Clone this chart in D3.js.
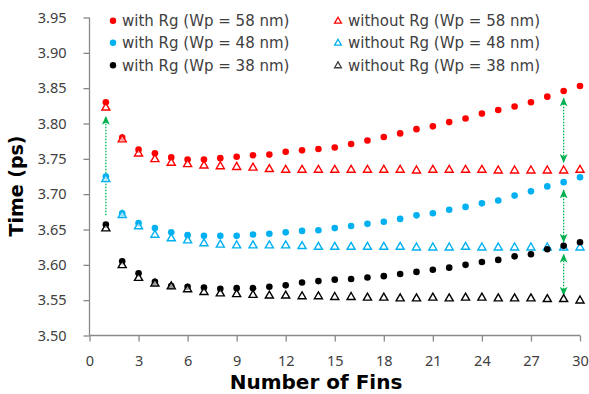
<!DOCTYPE html>
<html>
<head>
<meta charset="utf-8">
<script src="https://cdn.jsdelivr.net/npm/d3@7"></script>
<style>
  body { margin: 0; background: #fff; }
  svg { display: block; }
</style>
</head>
<body>
<div id="chart"></div>
<script>
// Number of fins (x) and delay time (ps) for each series
const fins = d3.range(1, 31);
const withRg58 = [3.830, 3.780, 3.763, 3.758, 3.752, 3.749, 3.749, 3.751, 3.753, 3.755,
  3.756, 3.760, 3.762, 3.764, 3.766, 3.771, 3.776, 3.781, 3.786, 3.792,
  3.796, 3.802, 3.807, 3.814, 3.819, 3.824, 3.830, 3.838, 3.846, 3.853];
const withoutRg58 = [3.823, 3.778, 3.758, 3.750, 3.745, 3.743, 3.741, 3.740, 3.739, 3.738,
  3.736, 3.735, 3.735, 3.735, 3.735, 3.735, 3.735, 3.735, 3.735, 3.734,
  3.735, 3.735, 3.735, 3.735, 3.734, 3.734, 3.734, 3.734, 3.734, 3.735];
const withRg48 = [3.725, 3.673, 3.659, 3.652, 3.646, 3.642, 3.641, 3.641, 3.641, 3.643,
  3.644, 3.646, 3.648, 3.649, 3.652, 3.655, 3.658, 3.661, 3.665, 3.670,
  3.673, 3.678, 3.682, 3.687, 3.691, 3.698, 3.704, 3.711, 3.717, 3.724];
const withoutRg48 = [3.722, 3.671, 3.655, 3.643, 3.638, 3.635, 3.631, 3.629, 3.628, 3.628,
  3.628, 3.628, 3.627, 3.626, 3.626, 3.626, 3.626, 3.626, 3.626, 3.625,
  3.625, 3.625, 3.626, 3.625, 3.625, 3.625, 3.625, 3.625, 3.625, 3.625];
const withRg38 = [3.657, 3.605, 3.588, 3.576, 3.570, 3.569, 3.568, 3.566, 3.567, 3.567,
  3.569, 3.571, 3.575, 3.577, 3.579, 3.580, 3.582, 3.584, 3.587, 3.590,
  3.593, 3.596, 3.600, 3.604, 3.607, 3.612, 3.615, 3.622, 3.627, 3.632];
const withoutRg38 = [3.652, 3.600, 3.582, 3.574, 3.570, 3.566, 3.562, 3.560, 3.559, 3.558,
  3.557, 3.557, 3.556, 3.556, 3.555, 3.555, 3.554, 3.554, 3.553, 3.553,
  3.554, 3.553, 3.554, 3.554, 3.553, 3.553, 3.553, 3.552, 3.552, 3.550];

const seriesNames = ["with Rg (Wp = 58 nm)", "without Rg (Wp = 58 nm)",
  "with Rg (Wp = 48 nm)", "without Rg (Wp = 48 nm)",
  "with Rg (Wp = 38 nm)", "without Rg (Wp = 38 nm)"];
const seriesValues = [withRg58, withoutRg58, withRg48, withoutRg48, withRg38, withoutRg38];
const seriesColors = ["#ff0000", "#ff0000", "#00b0f0", "#00b0f0", "#000000", "#000000"];
const seriesMarkers = ["dot", "triangle", "dot", "triangle", "dot", "triangle"];

const xTicks = d3.range(0, 31, 3);
const yTicks = [3.50, 3.55, 3.60, 3.65, 3.70, 3.75, 3.80, 3.85, 3.90, 3.95];

// Green arrows: [fins, from, to, doubleHeaded]
const arrows = [
  [1, 3.670, 3.810, false],
  [29, 3.745, 3.836, true],
  [29, 3.632, 3.706, true],
  [29, 3.557, 3.615, true]
];

const width = 589, height = 394;
const svg = d3.select("#chart").append("svg")
  .attr("width", width)
  .attr("height", height);

const x = d3.scaleLinear().domain([0, 30]).range([89.5, 580]);
const y = d3.scaleLinear().domain([3.50, 3.95]).range([335.5, 17.5]);

const axisColor = "#898989";
const labelColor = "#404040";
const tickFont = "'Noto Sans', sans-serif";

// Axes
const xAxis = svg.append("g")
  .attr("transform", `translate(0,${y(3.50)})`)
  .call(d3.axisBottom(x).tickValues(xTicks).tickSize(6).tickPadding(14).tickFormat(d3.format("d")));
const yAxis = svg.append("g")
  .attr("transform", `translate(${x(0)},0)`)
  .call(d3.axisLeft(y).tickValues(yTicks).tickSize(6).tickPadding(17).tickFormat(d3.format(".2f")));

[xAxis, yAxis].forEach(a => {
  a.select(".domain").attr("stroke", axisColor).attr("stroke-width", 1.3);
  a.selectAll(".tick line").attr("stroke", axisColor).attr("stroke-width", 1.3);
  a.selectAll(".tick text")
    .attr("fill", labelColor)
    .style("font-family", tickFont)
    .style("font-size", "14.5px");
});
// remove the outer tick ends d3 draws on the domain path
xAxis.select(".domain").attr("d", `M${x(0)},0H${x(30)}`);
yAxis.select(".domain").attr("d", `M0,${y(3.95)}V${y(3.50)}`);

// Axis titles
svg.append("text")
  .attr("x", 316)
  .attr("y", 389)
  .attr("text-anchor", "middle")
  .style("font-family", "'DejaVu Sans', sans-serif")
  .style("font-weight", "bold")
  .style("font-size", "20px")
  .attr("fill", "#000")
  .text("Number of Fins");

svg.append("text")
  .attr("transform", "translate(23,186) rotate(-90)")
  .attr("text-anchor", "middle")
  .style("font-family", "'DejaVu Sans', sans-serif")
  .style("font-weight", "bold")
  .style("font-size", "19px")
  .attr("fill", "#000")
  .text("Time (ps)");

// Arrows
const green = "#00b050";
const defs = svg.append("defs");
defs.append("marker")
  .attr("id", "head")
  .attr("viewBox", "0 0 8 8")
  .attr("refX", 7.5)
  .attr("refY", 4)
  .attr("markerWidth", 9)
  .attr("markerHeight", 9)
  .attr("markerUnits", "userSpaceOnUse")
  .attr("orient", "auto-start-reverse")
  .append("path")
  .attr("d", "M0,0.5L8,4L0,7.5L2.2,4Z")
  .attr("fill", green);

svg.append("g").selectAll("line")
  .data(arrows)
  .join("line")
  .attr("x1", d => x(d[0]))
  .attr("x2", d => x(d[0]))
  .attr("y1", d => y(d[1]))
  .attr("y2", d => y(d[2]))
  .attr("stroke", green)
  .attr("stroke-width", 1.3)
  .attr("stroke-dasharray", "1.5,1.5")
  .attr("marker-end", "url(#head)")
  .attr("marker-start", d => d[3] ? "url(#head)" : null);

// Data markers
const tri = d3.symbol().type(d3.symbolTriangle).size(28);
const plot = svg.append("g");
seriesValues.forEach((vals, i) => {
  const pts = fins.map((f, j) => [f, vals[j]]);
  const g = plot.append("g");
  if (seriesMarkers[i] === "dot") {
    g.selectAll("circle")
      .data(pts)
      .join("circle")
      .attr("cx", d => x(d[0]))
      .attr("cy", d => y(d[1]))
      .attr("r", 3.3)
      .attr("fill", seriesColors[i]);
  } else {
    g.selectAll("path")
      .data(pts)
      .join("path")
      .attr("d", tri)
      .attr("transform", d => `translate(${x(d[0])},${y(d[1]) + 0.5})`)
      .attr("fill", "#fff")
      .attr("fill-opacity", 0.6)
      .attr("stroke", seriesColors[i])
      .attr("stroke-width", 1.4);
  }
});

// Legend
const legendRows = [20.7, 42.7, 65.3];
const legendCols = [[113, 122], [338, 348]];
const legend = svg.append("g");
seriesNames.forEach((name, i) => {
  const row = legendRows[Math.floor(i / 2)];
  const col = legendCols[i % 2];
  if (seriesMarkers[i] === "dot") {
    legend.append("circle")
      .attr("cx", col[0]).attr("cy", row)
      .attr("r", 3.2)
      .attr("fill", seriesColors[i]);
  } else {
    legend.append("path")
      .attr("d", d3.symbol().type(d3.symbolTriangle).size(20)())
      .attr("transform", `translate(${col[0]},${row + 0.5})`)
      .attr("fill", "#fff")
      .attr("stroke", seriesColors[i] === "#000000" ? "#404040" : seriesColors[i])
      .attr("stroke-width", 1.3);
  }
  legend.append("text")
    .attr("x", col[1])
    .attr("y", row)
    .attr("dy", "0.36em")
    .style("font-family", "'DejaVu Sans', sans-serif")
    .style("font-size", "15px")
    .attr("fill", labelColor)
    .text(name);
});
</script>
</body>
</html>
